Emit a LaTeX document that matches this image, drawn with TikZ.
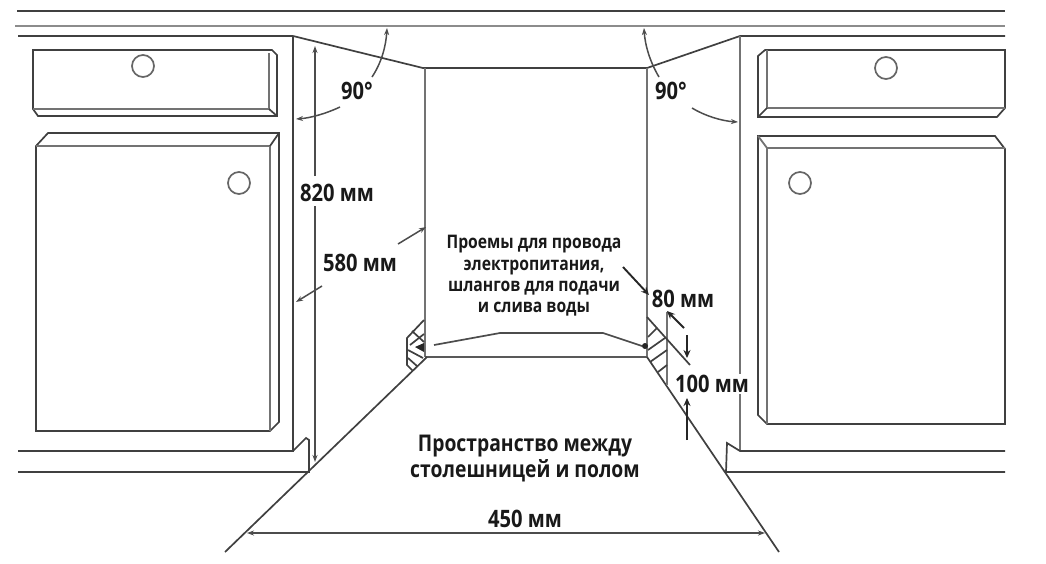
\documentclass[tikz,border=0pt]{standalone}
\usepackage{fontspec}
\usetikzlibrary{arrows.meta}
\newfontfamily\labfont[FakeStretch=0.84]{Open Sans}
\tikzset{
  ln/.style={draw=black!75,line width=1.7pt},
  lite/.style={draw=black!55,line width=1.8pt},
  dim/.style={draw=black!70,line width=1.5pt,-{Stealth[length=7pt,width=5pt]}},
  bold/.style={draw=black!85,line width=1.9pt,-{Stealth[length=8pt,width=7pt]}},
  dimb/.style={draw=black!70,line width=1.5pt,{Stealth[length=7pt,width=5pt]}-{Stealth[length=7pt,width=5pt]}},
  knob/.style={draw=black!60,line width=1.7pt,circle,minimum size=22pt,inner sep=0pt},
  lab/.style={font=\labfont\bfseries\fontsize{24}{26}\selectfont,text=black!90,inner sep=0pt,align=center},
  labw/.style={lab,fill=white,inner sep=1pt},
  labt/.style={lab,font=\labfont\bfseries\fontsize{23}{26}\selectfont},
  labs/.style={font=\labfont\bfseries\fontsize{18.7}{21.3}\selectfont,text=black!90,inner sep=0pt,align=center},
}
\begin{document}
\begin{tikzpicture}[x=1pt,y=-1pt]
\useasboundingbox (0,0) rectangle (1046,563);
% top lines
\draw[ln] (17,11) -- (1005,11);
\draw[draw=black!45,line width=2.6pt] (15,26) -- (1005,26);
\draw[ln] (18,36) -- (293,36) -- (423,68) -- (647,68) -- (740,36) -- (1005,36);
% left upper drawer
\draw[ln] (33,50) -- (272,50) -- (277,55) -- (277,116) -- (38,116) -- (33,109) -- cycle;
\draw[lite] (33,109) -- (269,109) -- (269,53);
\draw[ln] (269,109) -- (277,116);
\node[knob] (k1) at (143,66) {};
% left door
\draw[ln] (36,431) -- (36,146) -- (48,133) -- (279,133) -- (279,422) -- (270,431) -- cycle;
\draw[lite] (36,146) -- (270,146) -- (270,431);
\draw[ln] (270,146) -- (279,133);
\node[knob] (k2) at (239,183) {};
% right upper drawer
\draw[ln] (758,117) -- (758,56) -- (765,50) -- (1005,50) -- (1005,108) -- (997,117) -- cycle;
\draw[lite] (1005,108) -- (767,108) -- (767,50);
\draw[ln] (767,108) -- (758,117);
\node[knob] (k3) at (886,68) {};
% right door
\draw[ln] (758,415) -- (758,136) -- (995,136) -- (1005,149) -- (1005,424) -- (767,424) -- cycle;
\draw[lite] (758,136) -- (767,148) -- (1005,148);
\draw[lite] (767,148) -- (767,424);
\node[knob] (k4) at (800,183) {};
% verticals and plinth
\draw[ln] (293,36) -- (293,451) -- (18,451);
\draw[ln] (293,451) -- (306,438) -- (309,440) -- (309,472) -- (18,472);
\draw[lite] (740,36) -- (740,451);
\draw[ln] (1005,451) -- (740,451) -- (727,443) -- (726,472) -- (1005,472);
% niche
\draw[lite] (425,68) -- (425,357);
\draw[lite] (647,68) -- (647,357);
\draw[draw=black!65,line width=2.2pt] (425,357) -- (647,357);
\draw[ln] (427,357) -- (225,552);
\draw[ln] (647,357) -- (779,552);
% inner floor
\draw[draw=black!70,line width=1.7pt] (434,345) -- (500,333) -- (603,333) -- (642,346);
\fill[black!85] (645,346) circle (3);
\fill[black!85] (415,347) -- (424,343) -- (424,352) -- cycle;
% hatch left
\draw[ln] (424,320) -- (407,338) -- (407,365) -- (413,371);
\draw[ln] (410,345) -- (424,334);
\draw[ln] (412,331) -- (424,342);
\draw[ln] (408,350) -- (423,358);
\draw[ln] (408,358) -- (417,366);
% hatch right
\draw[lite] (667,312) -- (667,385);
\draw[ln] (647,317) -- (690,365);
\draw[ln] (648,337) -- (657,328);
\draw[ln] (648,350) -- (665,338);
\draw[ln] (650,362) -- (667,350);
\draw[ln] (658,372) -- (667,365);
% dimensions
\node[labw] (t820) at (337,193) {820 мм};
\node[labw] (t580) at (360,263) {580 мм};
\node[labw] (t100) at (712,384) {100 мм};
\node[lab] (t80) at (683,299) {80 мм};
\node[lab] (t90a) at (357,91) {90°};
\node[lab] (t90b) at (671,91) {90°};
\node[labt] (t1) at (525,459) {Пространство между\\столешницей и полом};
\node[lab] (t450) at (525,519) {450 мм};
\node[labs] (t2) at (534,276) {Проемы для провода\\электропитания,\\шлангов для подачи\\и слива воды};
\coordinate (a1) at (315,176); \coordinate (a1t) at (315,46);
\coordinate (a2) at (315,206); \coordinate (a2t) at (315,462);
\draw[dim] (a1) -- (a1t);
\draw[dim] (a2) -- (a2t);
\coordinate (b1) at (322,286); \coordinate (b1t) at (296,302);
\coordinate (b2) at (398,244); \coordinate (b2t) at (426,227);
\draw[dim] (b1) -- (b1t);
\draw[dim] (b2) -- (b2t);
\coordinate (c1) at (372,77); \coordinate (c1t) at (387,28);
\coordinate (c2) at (340,107); \coordinate (c2t) at (296,119);
\draw[dim] (c1) .. controls (382,62) and (386,45) .. (c1t);
\draw[dim] (c2) .. controls (325,114) and (310,118) .. (c2t);
\coordinate (d1) at (659,77); \coordinate (d1t) at (644,28);
\coordinate (d2) at (692,108); \coordinate (d2t) at (738,122);
\draw[dim] (d1) .. controls (650,62) and (645,45) .. (d1t);
\draw[dim] (d2) .. controls (705,116) and (722,121) .. (d2t);
\coordinate (e1) at (623,267); \coordinate (e1t) at (649,295);
\draw[bold] (e1) -- (e1t);
\coordinate (e2) at (684,328); \coordinate (e2t) at (667,311);
\draw[bold] (e2) -- (e2t);
\coordinate (f1) at (687,335); \coordinate (f1t) at (687,358);
\draw[bold] (f1) -- (f1t);
\coordinate (f2) at (687,440); \coordinate (f2t) at (687,398);
\draw[bold] (f2) -- (f2t);
\coordinate (g1) at (247,533); \coordinate (g2) at (765,533);
\draw[dimb] (g1) -- (g2);
\end{tikzpicture}
\end{document}
